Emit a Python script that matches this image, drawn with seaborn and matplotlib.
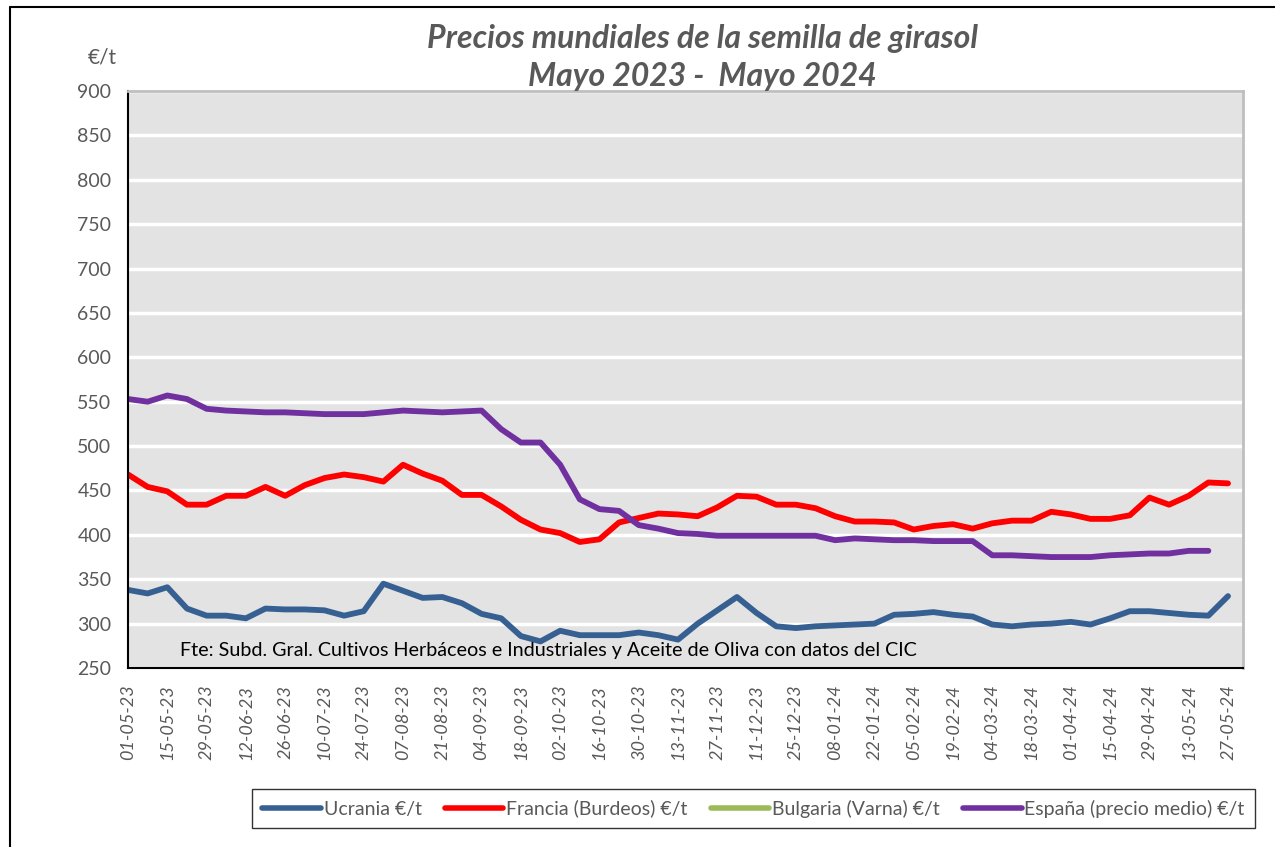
import numpy as np
import pandas as pd
import matplotlib
matplotlib.use("Agg")
import matplotlib.pyplot as plt
from matplotlib.lines import Line2D
import seaborn as sns

# Semanas (lunes) desde 01-05-23 hasta 27-05-24
fechas = pd.date_range("2023-05-01", "2024-05-27", freq="7D")

ucrania = [338, 334, 341, 317, 309, 309, 306, 317, 316, 316, 315, 309, 314, 345, 337, 329,
           330, 323, 311, 306, 286, 280, 292, 287, 287, 287, 290, 287, 282, 300, 315, 330,
           312, 297, 295, 297, 298, 299, 300, 310, 311, 313, 310, 308, 299, 297, 299, 300,
           302, 299, 306, 314, 314, 312, 310, 309, 331]
francia = [468, 454, 449, 434, 434, 444, 444, 454, 444, 456, 464, 468, 465, 460, 479, 469,
           461, 445, 445, 432, 417, 406, 402, 392, 395, 414, 419, 424, 423, 421, 431, 444,
           443, 434, 434, 430, 421, 415, 415, 414, 406, 410, 412, 407, 413, 416, 416, 426,
           423, 418, 418, 422, 442, 434, 444, 459, 458]
bulgaria = [np.nan] * 57
espana = [553, 550, 557, 553, 542, 540, 539, 538, 538, 537, 536, 536, 536, 538, 540, 539,
          538, 539, 540, 519, 504, 504, 479, 440, 429, 427, 411, 407, 402, 401, 399, 399,
          399, 399, 399, 399, 394, 396, 395, 394, 394, 393, 393, 393, 377, 377, 376, 375,
          375, 375, 377, 378, 379, 379, 382, 382, np.nan]

series = {
    "Ucrania €/t": ucrania,
    "Francia (Burdeos) €/t": francia,
    "Bulgaria (Varna) €/t": bulgaria,
    "España (precio medio) €/t": espana,
}
colores = {
    "Ucrania €/t": "#376092",
    "Francia (Burdeos) €/t": "#FF0000",
    "Bulgaria (Varna) €/t": "#9BBB59",
    "España (precio medio) €/t": "#7030A0",
}

semana = np.arange(len(fechas))
etiquetas = [f.strftime("%d-%m-%y") for f in fechas]

df = pd.DataFrame({"semana": semana, **series}).melt(
    id_vars="semana", var_name="serie", value_name="precio").dropna()

sns.set_style("white")
plt.rcParams["font.family"] = ["Lato", "DejaVu Sans"]
gris = "#595959"

fig = plt.figure(figsize=(12.75, 8.47), dpi=100)
ax = fig.add_axes([0.1004, 0.2113, 0.8743, 0.6813])
ax.set_facecolor("#E3E3E3")

sns.lineplot(data=df, x="semana", y="precio", hue="serie", palette=colores,
             linewidth=4.2, legend=False, ax=ax, sort=False)

ax.set_ylim(250, 900)
ax.set_yticks(range(250, 901, 50))
ax.set_xlim(0, 56.75)
ax.set_xticks(semana[::2])
ax.set_xticklabels(etiquetas[::2], rotation=90, fontstyle="italic", fontsize=13, color=gris)
ax.tick_params(axis="y", labelsize=14, colors=gris, length=0, pad=12)
ax.tick_params(axis="x", length=6, width=1.5, color="black", direction="out", pad=6)
ax.yaxis.grid(True, color="white", linewidth=2.5)
ax.set_axisbelow(True)
ax.set_xlabel("")
ax.set_ylabel("")

for lado in ["top", "right"]:
    ax.spines[lado].set_color("#BFBFBF")
    ax.spines[lado].set_linewidth(2)
for lado in ["left", "bottom"]:
    ax.spines[lado].set_color("black")
    ax.spines[lado].set_linewidth(1.5)

ax.text(0.047, 0.015, "Fte: Subd. Gral. Cultivos Herbáceos e Industriales y Aceite de Oliva con datos del CIC",
        transform=ax.transAxes, fontsize=14.2, color="black", ha="left", va="bottom")

fig.text(0.5506, 0.955, "Precios mundiales de la semilla de girasol", ha="center", va="center",
         fontsize=23, fontweight="bold", fontstyle="italic", color=gris)
fig.text(0.5506, 0.910, "Mayo 2023 -  Mayo 2024", ha="center", va="center",
         fontsize=23, fontweight="bold", fontstyle="italic", color=gris)
fig.text(0.080, 0.932, "€/t", ha="center", va="center", fontsize=15, color=gris)

# marco exterior (solo arriba e izquierda visibles)
fig.add_artist(Line2D([10 / 1275, 10 / 1275], [0, 1 - 7 / 847], transform=fig.transFigure,
                      color="black", linewidth=1.5))
fig.add_artist(Line2D([10 / 1275, 1], [1 - 7 / 847, 1 - 7 / 847], transform=fig.transFigure,
                      color="black", linewidth=1.5))

manejadores = [Line2D([0], [0], color=colores[n], linewidth=4, solid_capstyle="round")
               for n in series]
leg = fig.legend(manejadores, list(series.keys()), loc="center", ncol=4,
                 bbox_to_anchor=(753.5 / 1275, 1 - 808.5 / 847), fontsize=14,
                 handlelength=3.0, handletextpad=0.15, columnspacing=1.2,
                 frameon=True, fancybox=False, borderpad=0.55, labelcolor=gris)
leg.get_frame().set_edgecolor("black")
leg.get_frame().set_linewidth(1.0)

fig.savefig("out.png", dpi=100)
